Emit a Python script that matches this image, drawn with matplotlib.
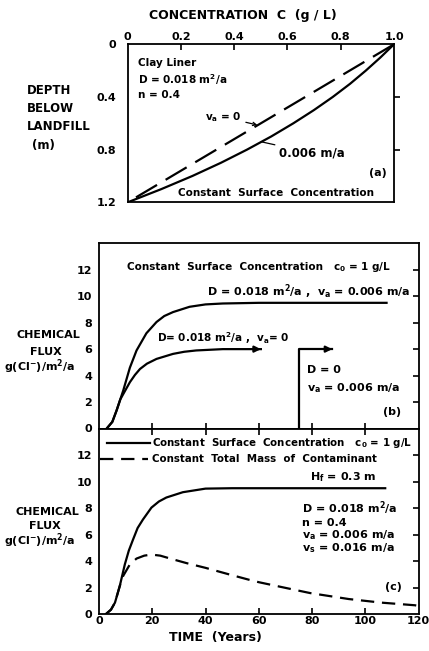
import matplotlib
matplotlib.use('Agg')
import matplotlib.pyplot as plt
from matplotlib.lines import Line2D

# ---------------- data ----------------
# panel (a): concentration profiles vs depth
depth_lin = [0.0, 1.2]
conc_va0 = [1.0, 0.0]
depth_pts = [0.0, 0.1, 0.2, 0.3, 0.4, 0.5, 0.6, 0.7, 0.8, 0.9, 1.0, 1.1, 1.2]
conc_va006 = [1.0, 0.949, 0.894, 0.835, 0.770, 0.699, 0.622, 0.539, 0.448, 0.350, 0.243, 0.126, 0.0]
conc_ticks = [0, 0.2, 0.4, 0.6, 0.8, 1.0]
conc_ticklabels = ['0', '0.2', '0.4', '0.6', '0.8', '1.0']
depth_ticks = [0, 0.4, 0.8, 1.2]
depth_ticklabels = ['0', '0.4', '0.8', '1.2']

# panel (b): flux vs time
tb_adv = [2.9, 5.0, 6.6, 9.1, 11.6, 14.1, 17.8, 21.6, 24.5, 27.8, 34.0, 40.0, 46.5, 60.0, 80.0, 108.0]
fb_adv = [0.0, 0.5, 1.36, 2.87, 4.6, 5.9, 7.2, 8.05, 8.5, 8.8, 9.2, 9.38, 9.45, 9.5, 9.5, 9.5]
tb_v0 = [2.9, 5.0, 6.6, 8.0, 9.1, 11.6, 13.5, 15.4, 18.0, 21.6, 27.8, 32.0, 36.5, 46.5, 60.8]
fb_v0 = [0.0, 0.5, 1.36, 2.2, 2.6, 3.5, 4.05, 4.5, 4.9, 5.26, 5.64, 5.8, 5.9, 6.0, 6.0]
tb_d0 = [75.0, 75.0, 87.6]
fb_d0 = [0.0, 6.0, 6.0]

# panel (c)
tc_const = [2.5, 4.5, 6.0, 7.8, 9.7, 11.2, 12.8, 14.5, 16.5, 19.7, 22.5, 25.3, 31.5, 40.0, 50.0, 70.0, 107.5]
fc_const = [0.0, 0.35, 0.88, 2.13, 3.76, 4.8, 5.64, 6.5, 7.14, 8.04, 8.5, 8.8, 9.2, 9.47, 9.5, 9.5, 9.5]
tc_mass = [2.5, 4.5, 6.0, 7.8, 9.1, 11.6, 14.1, 17.0, 19.7, 23.0, 27.8, 33.0, 40.0, 49.0, 56.4, 60.0, 71.0,
           79.3, 93.8, 106.0, 118.7, 120.0]
fc_mass = [0.0, 0.35, 0.88, 2.13, 2.9, 3.76, 4.2, 4.42, 4.5, 4.42, 4.14, 3.85, 3.5, 3.0, 2.6, 2.42, 1.95,
           1.6, 1.15, 0.88, 0.68, 0.62]

flux_ticks = [0, 2, 4, 6, 8, 10, 12]
time_ticks = [0, 20, 40, 60, 80, 100, 120]

# ---------------- figure ----------------
W, H = 429, 651
plt.rcParams['font.family'] = ['DejaVu Sans']
plt.rcParams['font.weight'] = 'bold'
plt.rcParams['mathtext.default'] = 'bf'
fig = plt.figure(figsize=(W / 100, H / 100), dpi=100)

FS = 7.5      # in-plot annotations
TFS = 8       # tick labels
LFS = 8.5     # axis titles
YFS = 8       # flux axis titles
LW = 1.6
SP = 1.3


def box(l, t, r, b):
    return [l / W, 1 - b / H, (r - l) / W, (b - t) / H]


def ftext(x, y, s, ha='left', fs=FS, **kw):
    fig.text(x / W, 1 - y / H, s, ha=ha, va='center', fontsize=fs, fontweight='bold', **kw)


axA = fig.add_axes(box(127.7, 44.3, 394, 202.3))
axB = fig.add_axes(box(99, 243.3, 418.5, 428.5))
axC = fig.add_axes(box(99, 428.5, 418.5, 614.3))

for ax in (axA, axB, axC):
    for s in ax.spines.values():
        s.set_linewidth(SP)

# ---- panel (a)
axA.plot(conc_va0, depth_lin, color='k', lw=LW, dashes=(11, 4.5))
axA.plot(conc_va006, depth_pts, color='k', lw=LW)
axA.set_xlim(0, 1)
axA.set_ylim(1.2, 0)
axA.xaxis.tick_top()
axA.set_xticks(conc_ticks)
axA.set_xticklabels(conc_ticklabels, fontsize=TFS, fontweight='bold')
axA.tick_params(axis='x', direction='in', length=4, width=1.2, pad=2, top=True, bottom=False)
axA.set_yticks(depth_ticks)
axA.set_yticklabels(depth_ticklabels, fontsize=TFS, fontweight='bold')
axA.tick_params(axis='y', direction='out', length=4, width=1.2, pad=4, left=False, right=True,
                labelleft=True)
for i in (0, -1):
    axA.yaxis.get_major_ticks()[i].tick2line.set_visible(False)
    axA.xaxis.get_major_ticks()[i].tick2line.set_visible(False)

axA.annotate('v$_a$ = 0', xy=(0.487, 0.613), xytext=(205, H - 117), textcoords='figure pixels',
             ha='left', va='center', fontsize=FS, fontweight='bold',
             arrowprops=dict(arrowstyle='->', color='k', lw=0.9, shrinkA=1, shrinkB=0,
                             mutation_scale=6))
axA.annotate('0.006 m/a', xy=(0.505, 0.742), xytext=(279, H - 153), textcoords='figure pixels',
             ha='left', va='center', fontsize=8.5, fontweight='bold',
             arrowprops=dict(arrowstyle='-', color='k', lw=0.9, shrinkA=1, shrinkB=0))

ftext(243, 15, 'CONCENTRATION  C  (g / L)', ha='center', fs=LFS + 0.5)
ftext(138, 63, 'Clay Liner')
ftext(138, 80, 'D = 0.018 m$^2$/a')
ftext(138, 95, 'n = 0.4')
ftext(369, 173, '(a)', fs=8)
ftext(178, 193, 'Constant  Surface  Concentration')
ftext(27, 90, 'DEPTH', fs=LFS)
ftext(27, 108, 'BELOW', fs=LFS)
ftext(27, 127, 'LANDFILL', fs=LFS)
ftext(32, 145, '(m)', fs=LFS)

# ---- panel (b)
axB.plot(tb_adv, fb_adv, color='k', lw=LW)
axB.plot(tb_v0, fb_v0, color='k', lw=LW)
axB.plot(tb_d0, fb_d0, color='k', lw=LW)
for tt, ff in ((tb_v0, fb_v0), (tb_d0, fb_d0)):
    axB.annotate('', xy=(tt[-1], ff[-1]), xytext=(tt[-1] - 3, ff[-1]),
                 arrowprops=dict(arrowstyle='-|>', color='k', lw=LW, mutation_scale=9,
                                 shrinkA=0, shrinkB=0))
axB.set_xlim(0, 120)
axB.set_ylim(0, 14)
axB.set_xticks([20, 40, 60, 80, 100])
axB.tick_params(axis='x', direction='in', length=4, width=1.2, top=False, bottom=True,
                labelbottom=False)
axB.set_yticks(flux_ticks)
axB.set_yticklabels([str(v) for v in flux_ticks], fontsize=TFS, fontweight='bold')
axB.tick_params(axis='y', direction='in', length=4, width=1.2, pad=5, left=False, right=True,
                labelleft=True)
axB.yaxis.get_major_ticks()[0].tick2line.set_visible(False)

ftext(127, 267, 'Constant  Surface  Concentration')
ftext(333, 267, 'c$_0$ = 1 g/L')
ftext(207, 292, 'D = 0.018 m$^2$/a ,  v$_a$ = 0.006 m/a', fs=8)
ftext(157, 338, 'D= 0.018 m$^2$/a ,  v$_a$= 0')
ftext(307, 370, 'D = 0', fs=8)
ftext(307, 388, 'v$_a$ = 0.006 m/a', fs=8)
ftext(383, 412, '(b)', fs=8)
ftext(48, 335, 'CHEMICAL', ha='center', fs=YFS)
ftext(46, 352, 'FLUX', ha='center', fs=YFS)
ftext(40, 367, 'g(Cl$^{-}$)/m$^2$/a', ha='center', fs=YFS)

# ---- panel (c)
axC.plot(tc_const, fc_const, color='k', lw=LW)
axC.plot(tc_mass, fc_mass, color='k', lw=LW, dashes=(6, 3.5))
axC.set_xlim(0, 120)
axC.set_ylim(0, 14)
axC.set_xticks(time_ticks)
axC.set_xticklabels([str(v) for v in time_ticks], fontsize=TFS, fontweight='bold')
axC.tick_params(axis='x', direction='in', length=4, width=1.2, pad=1, top=True, bottom=True)
for i in (0, -1):
    axC.xaxis.get_major_ticks()[i].tick1line.set_visible(False)
    axC.xaxis.get_major_ticks()[i].tick2line.set_visible(False)
axC.set_yticks(flux_ticks)
axC.set_yticklabels([str(v) for v in flux_ticks], fontsize=TFS, fontweight='bold')
axC.tick_params(axis='y', direction='in', length=4, width=1.2, pad=5, left=False, right=True,
                labelleft=True)
axC.yaxis.get_major_ticks()[0].tick2line.set_visible(False)

fig.add_artist(Line2D([107 / W, 150 / W], [1 - 443 / H, 1 - 443 / H], color='k', lw=LW,
                      transform=fig.transFigure))
fig.add_artist(Line2D([100 / W, 148 / W], [1 - 459 / H, 1 - 459 / H], color='k', lw=LW,
                      dashes=(6, 3.5), transform=fig.transFigure))
ftext(152, 443, 'Constant  Surface  Concentration   c$_0$ = 1 g/L', fs=7.4)
ftext(152, 459, 'Constant  Total  Mass  of  Contaminant', fs=7.4)
ftext(310, 477, 'H$_f$ = 0.3 m', fs=8)
ftext(302, 508, 'D = 0.018 m$^2$/a', fs=8)
ftext(302, 523, 'n = 0.4', fs=8)
ftext(302, 535, 'v$_a$ = 0.006 m/a', fs=8)
ftext(302, 548, 'v$_s$ = 0.016 m/a', fs=8)
ftext(385, 587, '(c)', fs=8)
ftext(47, 512, 'CHEMICAL', ha='center', fs=YFS)
ftext(45, 526, 'FLUX', ha='center', fs=YFS)
ftext(40, 541, 'g(Cl$^{-}$)/m$^2$/a', ha='center', fs=YFS)
ftext(215, 637, 'TIME  (Years)', ha='center', fs=LFS + 0.5)

fig.savefig('out.png', dpi=100)
